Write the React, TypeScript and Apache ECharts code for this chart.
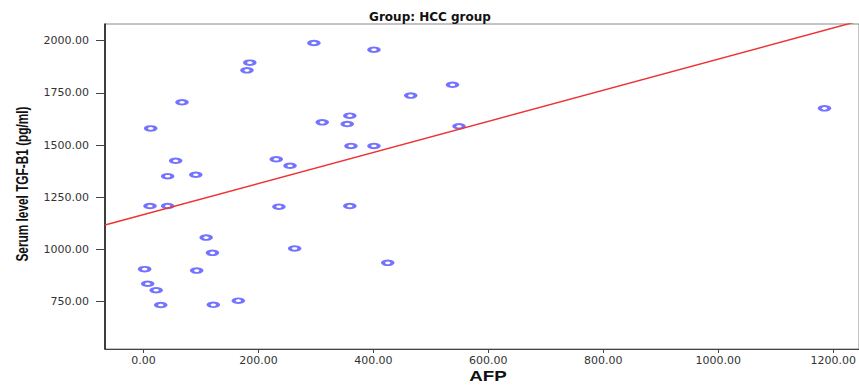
import React, { useEffect, useRef } from "react";
import * as echarts from "echarts";

const afp: number[] = [
  12.5, 67, 56, 42, 91, 180, 185, 296.5, 401, 465, 231, 255, 311, 359, 354.5, 361, 401,
  537.7, 549, 1185,
  11.3, 42, 235.6, 359, 109, 120, 263, 2, 92.5, 7.3, 22, 30, 121.5, 165, 425,
];
const tgfB1: number[] = [
  1580, 1705, 1425, 1351, 1358, 1858, 1895, 1989, 1957, 1737, 1432, 1401, 1609, 1641, 1601, 1496, 1496,
  1789, 1590, 1676,
  1208, 1208, 1205, 1208, 1057, 984, 1005, 906, 899, 836, 805, 734, 735, 755, 936,
];
const xTicks: number[] = [0, 200, 400, 600, 800, 1000, 1200];
const yTicks: number[] = [750, 1000, 1250, 1500, 1750, 2000];
const xRange: number[] = [-67, 1245];
const yRange: number[] = [523.5, 2080];
const fitIntercept = 1167;
const fitSlope = 0.745;

export default function App() {
  const ref = useRef<HTMLDivElement>(null);
  useEffect(() => {
    if (!ref.current) return;
    const chart = echarts.init(ref.current, null, { renderer: "svg" });
    const points = afp.map((x, i) => [x, tgfB1[i]]);
    const fitLine = xRange.map((x) => [x, fitIntercept + fitSlope * x]);
    const tickFont = {
      fontFamily: "DejaVu Sans",
      fontSize: 11,
      color: "#333",
    };
    chart.setOption({
      animation: false,
      title: {
        text: "Group: HCC group",
        left: 430,
        top: 11,
        padding: 0,
        textAlign: "center",
        textStyle: {
          fontFamily: "DejaVu Sans",
          fontWeight: "bold",
          fontSize: 12,
          color: "#111",
        },
      },
      graphic: [
        {
          type: "text",
          x: 22,
          y: 184,
          rotation: Math.PI / 2,
          scaleX: 0.74,
          style: {
            text: "Serum level TGF-B1 (pg/ml)",
            fontFamily: "Liberation Sans",
            fontWeight: "bold",
            fontSize: 16,
            fill: "#111",
            textAlign: "center",
            textVerticalAlign: "middle",
          },
        },
        {
          type: "text",
          x: 488,
          y: 376,
          scaleX: 1.25,
          style: {
            text: "AFP",
            fontFamily: "Liberation Sans",
            fontWeight: "bold",
            fontSize: 15,
            fill: "#111",
            textAlign: "center",
            textVerticalAlign: "middle",
          },
        },
      ],
      grid: {
        left: 105,
        top: 24,
        right: 0,
        bottom: 36,
        outerBoundsMode: "none",
        containLabel: false,
        show: true,
        borderColor: "#888",
        borderWidth: 1,
      },
      xAxis: {
        type: "value",
        min: xRange[0],
        max: xRange[1],
        splitLine: { show: false },
        axisLine: { show: true, onZero: false, lineStyle: { color: "#444", width: 1 } },
        axisTick: { show: true, length: 4, customValues: xTicks, lineStyle: { color: "#444" } },
        axisLabel: {
          ...tickFont,
          margin: 6,
          customValues: xTicks,
          formatter: (v: number) => v.toFixed(2),
        },
      },
      yAxis: {
        type: "value",
        min: yRange[0],
        max: yRange[1],
        splitLine: { show: false },
        axisLine: { show: true, onZero: false, lineStyle: { color: "#111", width: 1.5 } },
        axisTick: { show: true, length: 9, customValues: yTicks, lineStyle: { color: "#444" } },
        axisLabel: {
          ...tickFont,
          margin: 16,
          customValues: yTicks,
          formatter: (v: number) => v.toFixed(2),
        },
      },
      series: [
        {
          type: "line",
          data: fitLine,
          symbol: "none",
          clip: true,
          lineStyle: { color: "#ee3333", width: 1.5 },
          silent: true,
        },
        {
          type: "scatter",
          data: points,
          symbol: "circle",
          symbolSize: [9.5, 4.5],
          itemStyle: {
            color: "#ffffff",
            borderColor: "#5050ff",
            borderWidth: 2.8,
          },
        },
      ],
    });
    return () => chart.dispose();
  }, []);
  return (
    <div
      ref={ref}
      style={{ position: "fixed", left: 0, top: 0, width: 859, height: 385, background: "#fff" }}
    />
  );
}
